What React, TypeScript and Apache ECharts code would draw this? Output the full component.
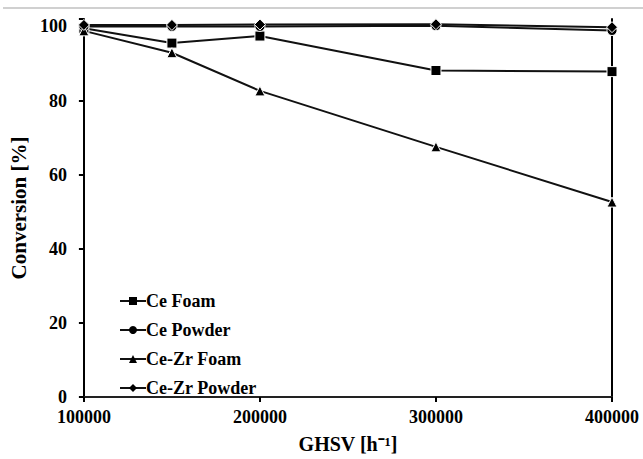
import React, { useEffect, useRef } from "react";
import * as echarts from "echarts";

const ghsv = [100000, 150000, 200000, 300000, 400000];
const ceFoam = [99.5, 95.5, 97.4, 88.1, 87.8];
const cePowder = [100, 100, 100, 100.2, 98.9];
const ceZrFoam = [98.8, 92.9, 82.6, 67.5, 52.6];
const ceZrPowder = [100.4, 100.4, 100.5, 100.6, 99.8];
const yTicks = [0, 20, 40, 60, 80, 100];

const seriesDefs = [
  { name: "Ce Foam", data: ceFoam, symbol: "rect", size: 10 },
  { name: "Ce Powder", data: cePowder, symbol: "circle", size: 10 },
  { name: "Ce-Zr Foam", data: ceZrFoam, symbol: "triangle", size: 10 },
  { name: "Ce-Zr Powder", data: ceZrPowder, symbol: "diamond", size: 11 },
];

const FONT = "'Liberation Serif', 'Times New Roman', serif";

export default function App() {
  const ref = useRef<HTMLDivElement>(null);
  useEffect(() => {
    if (!ref.current) return;
    const chart = echarts.init(ref.current, null, { renderer: "svg" });
    chart.setOption({
      animation: false,
      backgroundColor: "#fff",
      textStyle: { fontFamily: FONT },
      grid: { left: 80, right: 31, top: 19, bottom: 55 },
      graphic: [
        {
          type: "line",
          shape: { x1: 3, y1: 8, x2: 643, y2: 8 },
          style: { stroke: "#d0d0d0", lineWidth: 2 },
        },
      ],
      legend: {
        orient: "vertical",
        left: 114,
        top: 287,
        itemGap: 11,
        itemWidth: 26,
        itemHeight: 10,
        textStyle: { fontFamily: FONT, fontWeight: "bold", fontSize: 18, color: "#000", padding: [0, 0, 0, -5] },
        data: seriesDefs.map((s) => ({ name: s.name, itemStyle: { borderWidth: 0 } })),
      },
      xAxis: [
        {
          type: "value",
          min: 100000,
          max: 400000,
          interval: 100000,
          name: "GHSV [h\u207B\u00B9]",
          nameLocation: "middle",
          nameGap: 37,
          nameTextStyle: { fontFamily: FONT, fontWeight: "bold", fontSize: 20, color: "#000" },
          axisLine: { lineStyle: { color: "#000", width: 2 } },
          axisTick: { show: true, length: 5, lineStyle: { color: "#000", width: 2 } },
          axisLabel: {
            margin: 11,
            fontFamily: FONT,
            fontWeight: "bold",
            fontSize: 18,
            color: "#000",
            formatter: (v: number) => String(v),
          },
          splitLine: { show: false },
        },
        {
          type: "value",
          position: "top",
          min: 100000,
          max: 400000,
          axisLine: { show: true, lineStyle: { color: "#222", width: 2 } },
          axisTick: { show: false },
          axisLabel: { show: false },
          splitLine: { show: false },
        },
      ],
      yAxis: [
        {
          type: "value",
          min: 0,
          max: 102,
          interval: 20,
          name: "Conversion [%]",
          nameLocation: "middle",
          nameGap: 41,
          nameTextStyle: { fontFamily: FONT, fontWeight: "bold", fontSize: 21, color: "#000" },
          axisLine: { show: true, lineStyle: { color: "#000", width: 2 } },
          axisTick: { show: true, length: 5, lineStyle: { color: "#000", width: 2 } },
          axisLabel: {
            margin: 17,
            fontFamily: FONT,
            fontWeight: "bold",
            fontSize: 18,
            color: "#000",
            formatter: (v: number) => (yTicks.indexOf(v) >= 0 ? String(v) : ""),
          },
          splitLine: { show: false },
        },
        {
          type: "value",
          position: "right",
          min: 0,
          max: 102,
          axisLine: { show: true, lineStyle: { color: "#000", width: 2 } },
          axisTick: { show: false },
          axisLabel: { show: false },
          splitLine: { show: false },
        },
      ],
      series: seriesDefs.map((s) => ({
        name: s.name,
        type: "line",
        xAxisIndex: 0,
        yAxisIndex: 0,
        data: ghsv.map((x, i) => [x, s.data[i]]),
        symbol: s.symbol,
        symbolSize: s.size,
        showAllSymbol: true,
        lineStyle: { color: "#111", width: 2 },
        itemStyle: { color: "#000", borderColor: "#fff", borderWidth: 1 },
        emphasis: { disabled: true },
      })),
    });
    return () => chart.dispose();
  }, []);
  return (
    <div
      ref={ref}
      style={{ position: "fixed", left: 0, top: 0, width: 643, height: 459 }}
    />
  );
}
